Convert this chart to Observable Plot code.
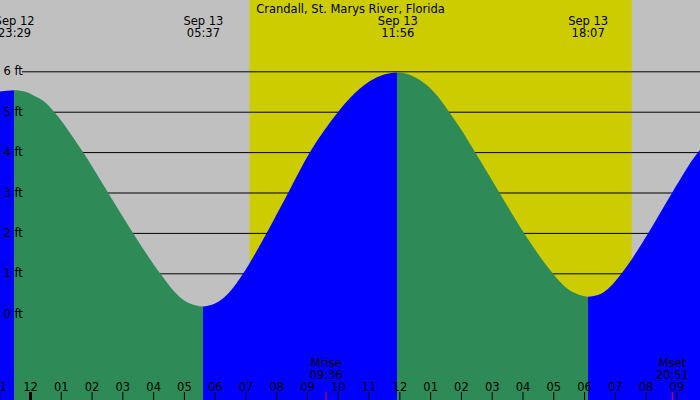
<!DOCTYPE html>
<html><head><meta charset="utf-8">
<script src="https://cdn.jsdelivr.net/npm/d3@7"></script>
<script src="https://cdn.jsdelivr.net/npm/@observablehq/plot@0.6"></script>
<style>html,body{margin:0;padding:0;background:#fff}</style>
</head><body><div id="chart"></div>
<script>
const stationName = "Crandall, St. Marys River, Florida";
const extremeDays = ["Sep 12", "Sep 13", "Sep 13", "Sep 13"];
const extremeTimes = ["23:29", "05:37", "11:56", "18:07"];
const extremeFeet = [5.53, 0.18, 5.97, 0.42];
// tide height readings (hours from Sep 13 00:00, feet)
const curveHours = [-0.975, -0.325, -0.0975, 0.0975, 0.325, 0.552, 0.78, 1.722, 2.534, 3.346, 4.224, 4.873, 5.198,
  6.01, 6.498, 6.93, 7.69, 8.392, 9.097, 10.016, 10.396, 11.046, 11.534,
  12.443, 12.888, 13.32, 13.612, 13.97, 14.457, 15.247, 16.049, 16.982, 17.381, 17.706,
  18.519, 18.843, 19.224, 20.088, 20.867, 21.712, 21.767];
const curveFeet = [5.50, 5.52, 5.48, 5.41, 5.32, 5.19, 5.0, 4.0, 3.0, 2.0, 1.0, 0.41, 0.25,
  0.25, 0.55, 1.0, 2.0, 3.0, 4.0, 5.0, 5.34, 5.76, 5.93,
  5.88, 5.66, 5.31, 5.0, 4.6, 4.0, 3.0, 2.0, 1.0, 0.67, 0.51,
  0.48, 0.66, 1.0, 2.0, 3.0, 4.0, 4.05];
const hourTicks = [-1, 0, 1, 2, 3, 4, 5, 6, 7, 8, 9, 10, 11, 12, 13, 14, 15, 16, 17, 18, 19, 20, 21];
const hourLabels = ["11", "12", "01", "02", "03", "04", "05", "06", "07", "08", "09", "10", "11",
  "12", "01", "02", "03", "04", "05", "06", "07", "08", "09"];
const feetTicks = [0, 1, 2, 3, 4, 5, 6];
const feetLabels = ["0 ft", "1 ft", "2 ft", "3 ft", "4 ft", "5 ft", "6 ft"];
const moonNames = ["Mrise", "Mset"];
const moonTimes = ["09:36", "20:51"];
const sunTimes = ["07:08", "19:33"];
const xDomain = [-0.975, 21.767];
const yDomain = [-2.136, 7.765];

const colors = {night: "#c0c0c0", day: "#cccc00", falling: "#2e8b57", rising: "#0000ff"};
const FS = 11.5;
const LH = 12 / FS;

function toHours(t, day) {
  const [h, m] = t.split(":").map(Number);
  return h + m / 60 + (day === "Sep 12" ? -24 : 0);
}

const extremes = extremeTimes.map((t, i) => ({day: extremeDays[i], time: t, h: toHours(t, extremeDays[i]), ft: extremeFeet[i]}));
const rows = curveHours.map((h, i) => ({h, ft: curveFeet[i]}))
  .concat(extremes.map(e => ({h: e.h, ft: e.ft})))
  .sort((a, b) => a.h - b.h);

// segments between tide extremes: rising -> blue, falling -> green
const bounds = [xDomain[0], ...extremes.map(e => e.h), xDomain[1]];
const segments = [];
for (let i = 0; i < bounds.length - 1; i++) {
  const seg = rows.filter(r => r.h >= bounds[i] - 1e-9 && r.h <= bounds[i + 1] + 1e-9);
  const rising = seg[seg.length - 1].ft > seg[0].ft;
  segments.push({start: bounds[i], end: bounds[i + 1], color: rising ? colors.rising : colors.falling});
}

const moons = moonNames.map((n, i) => ({name: n, time: moonTimes[i], h: toHours(moonTimes[i])}));
const sun = [{rise: toHours(sunTimes[0]), set: toHours(sunTimes[1])}];

const plot = Plot.plot({
  width: 700, height: 400,
  margin: 0,
  x: {domain: xDomain, axis: null},
  y: {domain: yDomain, axis: null},
  style: {background: colors.night, fontFamily: "DejaVu Sans", fontSize: FS + "px", overflow: "hidden"},
  marks: [
    Plot.rect(sun, {x1: "rise", x2: "set", fill: colors.day}),
    Plot.ruleY(feetTicks, {y: d => d, stroke: "black", strokeWidth: 1, insetLeft: 22}),
    Plot.areaY(rows, {x: "h", y1: yDomain[0], y2: "ft", fill: "url(#tideFill)", curve: "monotone-x", clip: true}),
    Plot.text(feetTicks, {y: d => d, text: (d, i) => feetLabels[i], frameAnchor: "left", dx: 3, textAnchor: "start", lineAnchor: "middle", fill: "black", fontSize: FS}),
    Plot.ruleX(hourTicks, {x: d => d, insetTop: 392, stroke: "black", strokeWidth: d => d === 0 ? 3 : 1}),
    Plot.ruleX(moons, {x: "h", insetTop: 392, stroke: "red", strokeWidth: 1}),
    Plot.text(hourTicks, {x: d => d, text: (d, i) => hourLabels[i], frameAnchor: "bottom", dy: -10, lineAnchor: "bottom", fill: "black", fontSize: FS}),
    Plot.text(moons, {x: "h", text: d => d.name + "\n" + d.time, frameAnchor: "bottom", dy: -22, lineAnchor: "bottom", lineHeight: LH, fill: "black", fontSize: FS}),
    Plot.text(extremes, {x: "h", text: d => d.day + "\n" + d.time, frameAnchor: "top", dy: 36, lineAnchor: "bottom", lineHeight: LH, fill: "black", fontSize: FS}),
    Plot.text([stationName], {text: d => d, frameAnchor: "top", dy: 12, lineAnchor: "bottom", fill: "black", fontSize: FS})
  ]
});

// hard-stop gradient so the single tide area is coloured per rising/falling segment
const xs = plot.scale("x");
const W = 700;
const ns = "http://www.w3.org/2000/svg";
const defs = document.createElementNS(ns, "defs");
const grad = document.createElementNS(ns, "linearGradient");
grad.setAttribute("id", "tideFill");
grad.setAttribute("gradientUnits", "userSpaceOnUse");
grad.setAttribute("x1", 0); grad.setAttribute("x2", W);
grad.setAttribute("y1", 0); grad.setAttribute("y2", 0);
segments.forEach(s => {
  [s.start, s.end].forEach(h => {
    const st = document.createElementNS(ns, "stop");
    st.setAttribute("offset", Math.max(0, Math.min(1, xs.apply(h) / W)));
    st.setAttribute("stop-color", s.color);
    grad.appendChild(st);
  });
});
defs.appendChild(grad);
plot.insertBefore(defs, plot.firstChild);
document.getElementById("chart").appendChild(plot);
</script>
</body></html>
